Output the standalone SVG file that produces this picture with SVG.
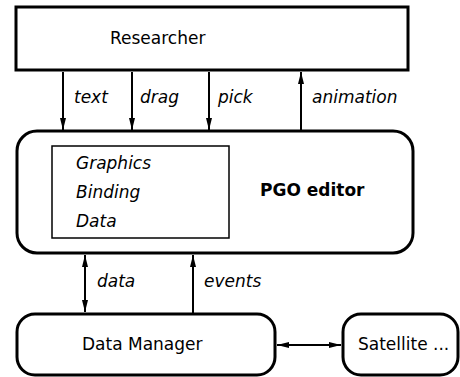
<svg xmlns="http://www.w3.org/2000/svg" width="460" height="377" viewBox="0 0 460 377">
<defs>
<marker id="ah" viewBox="0 0 12 6" refX="12" refY="3" markerWidth="12" markerHeight="6" markerUnits="userSpaceOnUse" orient="auto-start-reverse">
<path d="M0,0 L12,3 L0,6 Z" fill="#000"/>
</marker>
</defs>
<style>
.box{fill:#fff;stroke:#000;stroke-width:3}
.inner{fill:#fff;stroke:#000;stroke-width:1.5}
.lbl{font-family:"DejaVu Sans","Liberation Sans",Arial,sans-serif;font-size:17px;fill:#000}
.it{font-family:"DejaVu Sans","Liberation Sans",Arial,sans-serif;font-size:17px;font-style:italic;fill:#000}
.b{font-family:"DejaVu Sans","Liberation Sans",Arial,sans-serif;font-size:17px;font-weight:bold;fill:#000}
.c{stroke:#000;stroke-width:2;fill:none}
</style>
<rect width="460" height="377" fill="#fff"/>
<g id="researcher">
<rect class="box" x="16" y="7" width="392" height="63"/>
<text class="lbl" x="110" y="44">Researcher</text>
</g>
<g id="pgo-editor">
<rect class="box" x="17" y="131" width="396" height="122" rx="20" ry="20"/>
<rect class="inner" x="52" y="146" width="177" height="92"/>
<text class="it" x="76" y="169">Graphics</text>
<text class="it" x="76" y="198">Binding</text>
<text class="it" x="76" y="227">Data</text>
<text class="b" x="260" y="196">PGO editor</text>
</g>
<g id="data-manager">
<rect class="box" x="17" y="314" width="258" height="61" rx="18" ry="18"/>
<text class="lbl" x="82" y="350">Data Manager</text>
</g>
<g id="satellite">
<rect class="box" x="343" y="314" width="115" height="61" rx="18" ry="18"/>
<text class="lbl" x="358" y="350">Satellite ...</text>
</g>
<g id="connectors">
<line class="c" x1="63" y1="72" x2="63" y2="130" marker-end="url(#ah)"/>
<line class="c" x1="132" y1="72" x2="132" y2="130" marker-end="url(#ah)"/>
<line class="c" x1="209" y1="72" x2="209" y2="130" marker-end="url(#ah)"/>
<line class="c" x1="301" y1="130" x2="301" y2="72" marker-end="url(#ah)"/>
<line class="c" x1="85" y1="255" x2="85" y2="312" marker-start="url(#ah)" marker-end="url(#ah)"/>
<line class="c" x1="193" y1="313" x2="193" y2="255" marker-end="url(#ah)"/>
<line class="c" x1="277" y1="345" x2="341" y2="345" marker-start="url(#ah)" marker-end="url(#ah)"/>
<text class="it" x="74" y="103">text</text>
<text class="it" x="140" y="103">drag</text>
<text class="it" x="218" y="103">pick</text>
<text class="it" x="312" y="103">animation</text>
<text class="it" x="97" y="287">data</text>
<text class="it" x="204" y="287">events</text>
</g>
</svg>
